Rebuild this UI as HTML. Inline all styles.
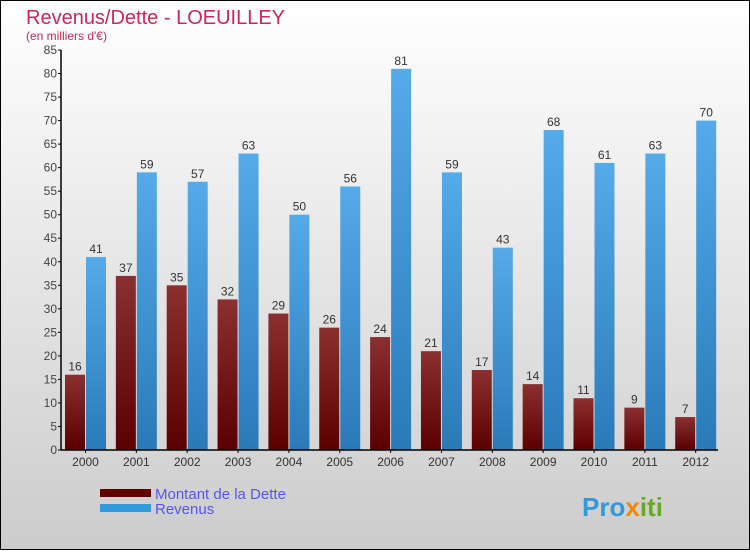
<!DOCTYPE html>
<html><head><meta charset="utf-8"><style>
body{margin:0;width:750px;height:550px;overflow:hidden;font-family:"Liberation Sans",sans-serif}
</style></head><body>
<svg width="750" height="550" xmlns="http://www.w3.org/2000/svg">
<defs>
<linearGradient id="bg" x1="0" y1="0" x2="0" y2="1"><stop offset="0" stop-color="#ffffff"/><stop offset="1" stop-color="#cccccc"/></linearGradient>
<linearGradient id="gd" x1="0" y1="0" x2="0" y2="1"><stop offset="0" stop-color="#8a3030"/><stop offset="1" stop-color="#5a0000"/></linearGradient>
<linearGradient id="gr" x1="0" y1="0" x2="0" y2="1"><stop offset="0" stop-color="#55aaea"/><stop offset="1" stop-color="#2a7ab8"/></linearGradient>
</defs>
<rect x="0.5" y="0.5" width="749" height="549" fill="url(#bg)" stroke="#000"/>
<text x="26" y="24" font-size="20" fill="#c8285a">Revenus/Dette - LOEUILLEY</text>
<text x="26" y="40" font-size="12" fill="#c8285a">(en milliers d'€)</text>
<g id="plot"></g>
<g>
<rect x="100" y="489" width="51" height="8" fill="#600000"/>
<text x="155" y="499" font-size="15" fill="#5555ee">Montant de la Dette</text>
<rect x="100" y="504" width="51" height="8" fill="#3399dd"/>
<text x="155" y="514" font-size="15" fill="#5555ee">Revenus</text>
</g>
<text x="582" y="516" font-size="26" font-weight="bold" fill="#3399dd">Pro<tspan fill="#ee8800">x</tspan><tspan fill="#66aa22">iti</tspan></text>
</svg>
<script>
const years=["2000","2001","2002","2003","2004","2005","2006","2007","2008","2009","2010","2011","2012"];
const dette=[16,37,35,32,29,26,24,21,17,14,11,9,7];
const revenus=[41,59,57,63,50,56,81,59,43,68,61,63,70];
const yTicks=[0,5,10,15,20,25,30,35,40,45,50,55,60,65,70,75,80,85];
const NS="http://www.w3.org/2000/svg";
const g=document.getElementById('plot');
const x0=61,step=50.85,y0=450,yTop=50,yMax=85;
const y=v=>y0-(v/yMax)*(y0-yTop);
function mk(t,a,txt){const e=document.createElementNS(NS,t);for(const k in a)e.setAttribute(k,a[k]);if(txt!==undefined)e.textContent=txt;g.appendChild(e);return e;}
yTicks.forEach(v=>{
const l=mk('line',{x1:x0-3,x2:x0,y1:y(v),y2:y(v),stroke:'#000'});


const t=mk('text',{x:x0-4,y:y(v)+4,'font-size':12,fill:'#444','text-anchor':'end'},String(v));


});
years.forEach((yr,i)=>{
const bx=x0+4+i*step;
const b1=mk('rect',{x:bx,y:y(dette[i]),width:20,height:y0-y(dette[i]),fill:'url(#gd)'});


const b2=mk('rect',{x:bx+21,y:y(revenus[i]),width:20,height:y0-y(revenus[i]),fill:'url(#gr)'});


const t1=mk('text',{x:bx+10,y:y(dette[i])-4,'font-size':12,fill:'#333','text-anchor':'middle'},String(dette[i]));


const t2=mk('text',{x:bx+31,y:y(revenus[i])-4,'font-size':12,fill:'#333','text-anchor':'middle'},String(revenus[i]));


const tk=mk('line',{x1:bx+20.5,x2:bx+20.5,y1:y0,y2:y0+3,stroke:'#000'});


const xl=mk('text',{x:bx+20.5,y:y0+16,'font-size':12,fill:'#333','text-anchor':'middle'},yr);


});
const ya=mk('line',{x1:x0,x2:x0,y1:yTop,y2:y0,stroke:'#000','stroke-width':1.5});


const xa=mk('line',{x1:x0,x2:718,y1:y0,y2:y0,stroke:'#000','stroke-width':1.5});


</script>
</body></html>
